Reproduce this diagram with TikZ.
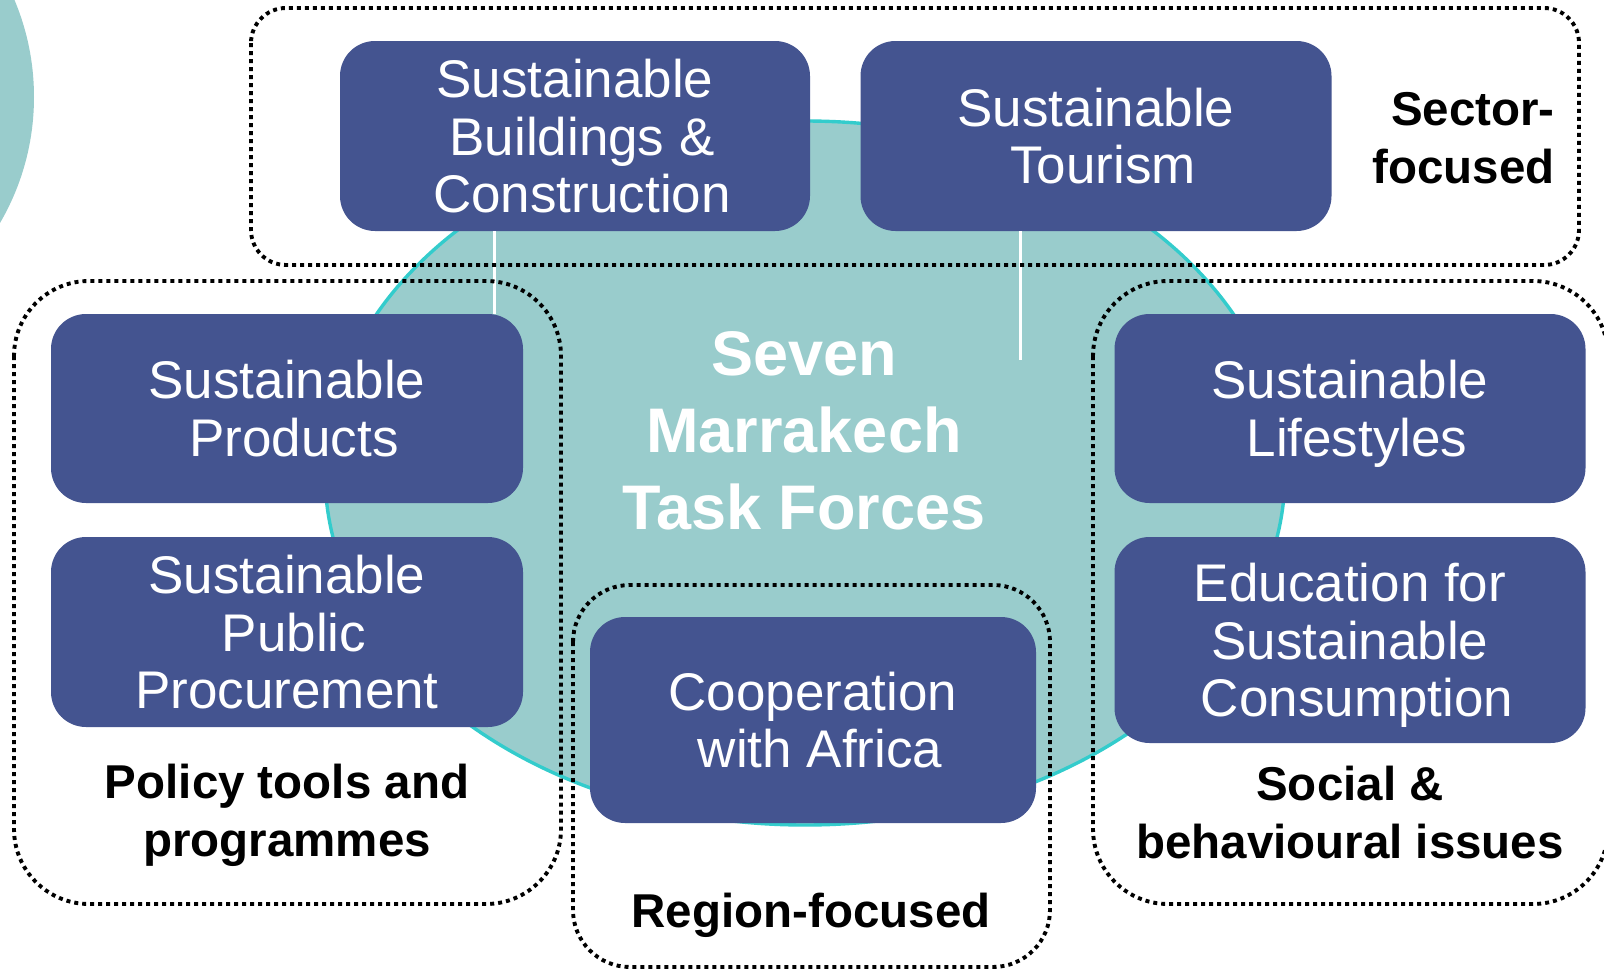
\documentclass[tikz,border=0pt]{standalone}
\usepackage{fontspec}
\setmainfont{Liberation Sans}
\definecolor{tfblue}{RGB}{68,84,144}
\definecolor{teal1}{RGB}{153,204,204}
\definecolor{cyanedge}{RGB}{51,204,204}
\newcommand{\shl}{\hspace*{14pt}}
\tikzset{
  tfbox/.style={rectangle, rounded corners=35pt, fill=tfblue, draw=none, text=white,
    align=center, inner sep=0pt, text depth=0pt, font=\fontsize{53}{57.5}\selectfont},
  grpbox/.style={draw=black, line width=3.9pt, dash pattern=on 4pt off 4pt},
  grplabel/.style={text=black, inner sep=0pt, text depth=0pt, font=\fontsize{47.5}{58}\selectfont\bfseries},
  wline/.style={draw=white, line width=3pt}
}
\begin{document}
\begin{tikzpicture}[x=1pt,y=-1pt]
\useasboundingbox (0,0) rectangle (1604,969);
\fill[white] (0,0) rectangle (1604,969);
% left partial circle
\fill[teal1] (-216,97) circle [radius=250pt];
% main ellipse
\filldraw[fill=teal1, draw=cyanedge, line width=3.4pt] (805,473) ellipse [x radius=480pt, y radius=352pt];
% boxes
\node[tfbox, minimum width=470pt, minimum height=190pt] (bld) at (575,136) {Sustainable\\\shl Buildings \&\\\shl Construction};
\node[tfbox, minimum width=471pt, minimum height=190pt] (tour) at (1096,136) {Sustainable\\\shl Tourism};
\node[tfbox, minimum width=472pt, minimum height=189pt] (prod) at (287,408.5) {Sustainable\\\shl Products};
\node[tfbox, minimum width=472pt, minimum height=190pt] (proc) at (287,632) {Sustainable\\\shl Public\\Procurement};
\node[tfbox, minimum width=471pt, minimum height=189pt] (life) at (1350,408.5) {Sustainable\\\shl Lifestyles};
\node[tfbox, minimum width=471pt, minimum height=206pt] (edu) at (1350,640) {Education for\\Sustainable\\\shl Consumption};
\node[tfbox, minimum width=446pt, minimum height=206pt] (coop) at (813,720) {Cooperation\\\shl with Africa};
% white connector lines
\coordinate (tend) at (1020,360);
\draw[wline] (494,0 |- bld.south) -- (494,0 |- prod.north);
\draw[wline] (tend |- tour.south) -- (tend);
% centre title
\node[text=white, align=center, inner sep=0pt, text depth=0pt, font=\fontsize{63}{77}\selectfont\bfseries] (title) at (804,430) {Seven\\Marrakech\\Task Forces};
% group boxes
\draw[grpbox, rounded corners=35pt] (251,8) rectangle (1579,265);
\draw[grpbox, rounded corners=75pt] (14,281) rectangle (561,904);
\draw[grpbox, rounded corners=75pt] (1093,281) rectangle (1608,904);
\draw[grpbox, rounded corners=57pt] (573,585) rectangle (1050,967);
% group labels
\node[grplabel, align=right, anchor=east] (lsec) at (1555,138) {Sector-\\focused};
\node[grplabel, align=center] (lpol) at (287,810) {Policy tools and\\programmes};
\node[grplabel, align=center] (lreg) at (811,910) {Region-focused};
\node[grplabel, align=center] (lsoc) at (1350,812) {Social \&\\behavioural issues};
\end{tikzpicture}
\end{document}
